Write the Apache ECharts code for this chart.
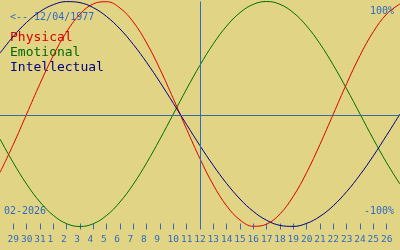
<!DOCTYPE html>
<html>
<head>
<meta charset="utf-8">
<script src="https://cdn.jsdelivr.net/npm/echarts@6/dist/echarts.min.js"></script>
<style>
html,body{margin:0;padding:0;background:#e1d485;}
#c{width:400px;height:250px;}
</style>
</head>
<body>
<div id="c"></div>
<script>
// Day offsets relative to today (12 Feb 2026), one per day from 28 Jan to 27 Feb
const dayOffsets = [-15,-14,-13,-12,-11,-10,-9,-8,-7,-6,-5,-4,-3,-2,-1,0,1,2,3,4,5,6,7,8,9,10,11,12,13,14,15];
// Tick day labels for offsets -14 .. 14
const tickOffsets = [-14,-13,-12,-11,-10,-9,-8,-7,-6,-5,-4,-3,-2,-1,0,1,2,3,4,5,6,7,8,9,10,11,12,13,14];
const tickLabels = ["29","30","31","1","2","3","4","5","6","7","8","9","10","11","12","13","14","15","16","17","18","19","20","21","22","23","24","25","26"];
// Series values (fraction of 100%)
const physical = [-0.520,-0.270,0.000,0.270,0.520,0.731,0.888,0.979,0.998,0.942,0.817,0.631,0.398,0.136,-0.136,-0.398,-0.631,-0.817,-0.942,-0.998,-0.979,-0.888,-0.731,-0.520,-0.270,0.000,0.270,0.520,0.731,0.888,0.979];
const emotional = [-0.223,-0.434,-0.624,-0.782,-0.901,-0.975,-1.000,-0.975,-0.901,-0.782,-0.624,-0.434,-0.223,0.000,0.223,0.434,0.624,0.782,0.901,0.975,1.000,0.975,0.901,0.782,0.624,0.434,0.223,0.000,-0.223,-0.434,-0.624];
const intellectual = [0.541,0.690,0.815,0.910,0.972,0.999,0.990,0.945,0.866,0.756,0.618,0.458,0.282,0.095,-0.095,-0.282,-0.458,-0.618,-0.756,-0.866,-0.945,-0.990,-0.999,-0.972,-0.910,-0.815,-0.690,-0.541,-0.372,-0.189,0.000];
const seriesNames = ["Physical","Emotional","Intellectual"];
const birthText = "<-- 12/04/1977";
const monthText = "02-2026";
const topText = "100%";
const bottomText = "-100%";
const todayOffset = 0;

const colors = {physical:"#e00000", emotional:"#007000", intellectual:"#000080", axis:"#2f6cc0", mid:"#3a6a9a"};
const mono = "DejaVu Sans Mono";

function pairs(vals){ return dayOffsets.map((d,i)=>[d, vals[i]]); }
function labelFor(v){
  const i = tickOffsets.indexOf(Math.round(v));
  if (i < 0) return "";
  const t = tickLabels[i];
  return t.length < 2 ? t + " " : t;
}

const chart = echarts.init(document.getElementById('c'), null, {renderer:'canvas'});
chart.setOption({
  backgroundColor: "#e1d485",
  animation: false,
  grid: {left:0, right:0, top:1.5, height:225},
  xAxis: {
    type:'value', min:-15, max:15, interval:1,
    offset: 3,
    axisLine:{show:false, onZero:false},
    splitLine:{show:false},
    axisTick:{show:true, inside:true, length:6, customValues: tickOffsets, lineStyle:{color:colors.axis, width:1}},
    axisLabel:{show:true, customValues: tickOffsets, margin:5, color:colors.axis, fontFamily:mono, fontSize:9.5, formatter: labelFor}
  },
  yAxis: {
    type:'value', min:-1, max:1,
    show:false
  },
  series: [
    {name:seriesNames[0], type:'line', data:pairs(physical), smooth:0.4, showSymbol:false, lineStyle:{color:colors.physical, width:1}, z:3},
    {name:seriesNames[1], type:'line', data:pairs(emotional), smooth:0.4, showSymbol:false, lineStyle:{color:colors.emotional, width:1}, z:2},
    {name:seriesNames[2], type:'line', data:pairs(intellectual), smooth:0.4, showSymbol:false, lineStyle:{color:colors.intellectual, width:1}, z:4,
     markLine:{silent:true, symbol:'none', label:{show:false},
       data:[{yAxis:-0.0133, lineStyle:{color:colors.mid, width:1, type:'solid'}},
             {xAxis:todayOffset + 0.0375, lineStyle:{color:colors.axis, width:1, type:'solid'}}]}}
  ],
  graphic: [
    {type:'text', left:10, top:12, style:{text:birthText, fill:colors.axis, font:"10px '"+mono+"'"}},
    {type:'text', left:10, top:31, style:{text:seriesNames[0], fill:"#d80000", font:"13px '"+mono+"'"}},
    {type:'text', left:10, top:46, style:{text:seriesNames[1], fill:"#006800", font:"13px '"+mono+"'"}},
    {type:'text', left:10, top:61, style:{text:seriesNames[2], fill:"#000080", font:"13px '"+mono+"'"}},
    {type:'text', right:6, top:6, style:{text:topText, fill:colors.axis, font:"10px '"+mono+"'"}},
    {type:'text', right:6, top:206, style:{text:bottomText, fill:colors.axis, font:"10px '"+mono+"'"}},
    {type:'text', left:4, top:206, style:{text:monthText, fill:colors.axis, font:"10px '"+mono+"'"}}
  ]
});
</script>
</body>
</html>
